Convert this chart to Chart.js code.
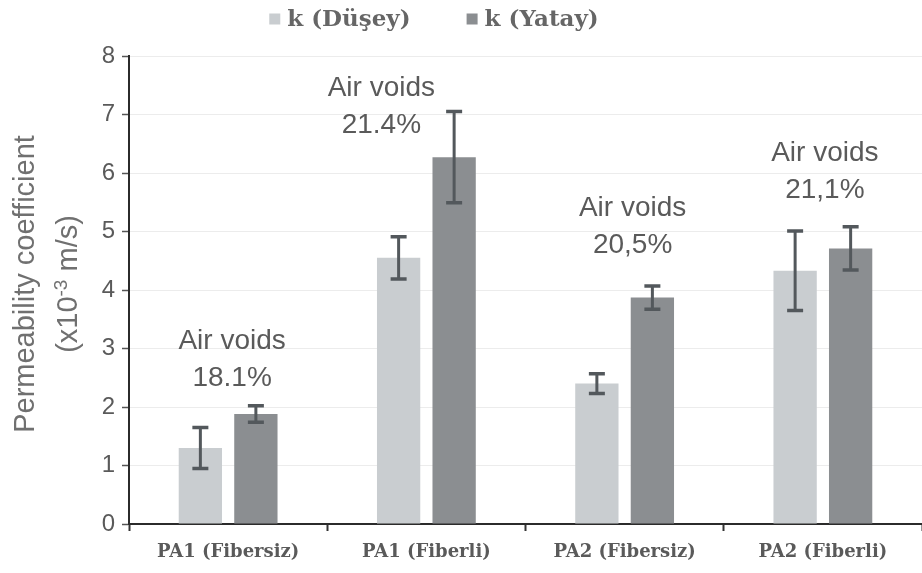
<!DOCTYPE html>
<html>
<head>
<meta charset="utf-8">
<script src="https://cdn.jsdelivr.net/npm/chart.js@4.4.1/dist/chart.umd.min.js"></script>
<style>
  html, body { margin: 0; padding: 0; background: #ffffff; }
  #wrap { width: 922px; height: 573px; }
</style>
</head>
<body>
<div id="wrap"><canvas id="c" width="922" height="573"></canvas></div>
<script>
// Permeability coefficient per mix, vertical (Düşey) and horizontal (Yatay)
const categories = ['PA1 (Fibersiz)', 'PA1 (Fiberli)', 'PA2 (Fibersiz)', 'PA2 (Fiberli)'];
const seriesNames = ['k (Düşey)', 'k (Yatay)'];
const kDusey = [1.30, 4.55, 2.40, 4.33];
const kDuseyErr = [0.35, 0.36, 0.17, 0.68];
const kYatay = [1.88, 6.27, 3.87, 4.71];
const kYatayErr = [0.14, 0.78, 0.20, 0.37];
const airVoids = ['18.1%', '21.4%', '20,5%', '21,1%'];
const yTicks = [0, 1, 2, 3, 4, 5, 6, 7, 8];

const LIGHT = '#c9cdd0';
const DARK = '#8b8e91';
const TEXT = '#5a5a5a';

// Whiskers drawn from each dataset's "errors" array
const errorBars = {
  id: 'errorBars',
  afterDatasetsDraw(chart) {
    const ctx = chart.ctx;
    const y = chart.scales.y;
    chart.data.datasets.forEach((ds, di) => {
      const meta = chart.getDatasetMeta(di);
      meta.data.forEach((bar, i) => {
        const v = ds.data[i], e = ds.errors[i];
        const yt = y.getPixelForValue(v + e);
        const yb = y.getPixelForValue(v - e);
        ctx.save();
        ctx.strokeStyle = '#53585c';
        ctx.lineWidth = 3;
        ctx.beginPath();
        ctx.moveTo(bar.x, yt); ctx.lineTo(bar.x, yb);
        ctx.stroke();
        ctx.lineWidth = 3.5;
        ctx.beginPath();
        ctx.moveTo(bar.x - 8, yt); ctx.lineTo(bar.x + 8, yt);
        ctx.moveTo(bar.x - 8, yb); ctx.lineTo(bar.x + 8, yb);
        ctx.stroke();
        ctx.restore();
      });
    });
  }
};

// "Air voids" notes above each group
const voidLabels = {
  id: 'voidLabels',
  afterDatasetsDraw(chart, args, opts) {
    const ctx = chart.ctx;
    const xs = chart.scales.x, ys = chart.scales.y;
    ctx.save();
    ctx.fillStyle = TEXT;
    ctx.font = '28px "Liberation Sans", Arial, sans-serif';
    ctx.textAlign = 'center';
    ctx.textBaseline = 'middle';
    airVoids.forEach((txt, i) => {
      const a = opts.anchors[i];
      const x = xs.getPixelForValue(i) + a.dx;
      const y = ys.getPixelForValue(a.y);
      ctx.fillText('Air voids', x, y);
      ctx.fillText(txt, x, y + opts.lineGap);
    });
    ctx.restore();
  }
};

// Legend row and rotated y-axis title
const frameText = {
  id: 'frameText',
  afterDraw(chart, args, opts) {
    const ctx = chart.ctx;
    ctx.save();
    // legend
    ctx.font = 'bold 23px "DejaVu Serif", serif';
    ctx.textBaseline = 'middle';
    ctx.textAlign = 'left';
    const box = 11, gap = 7, itemGap = 56;
    const w0 = ctx.measureText(seriesNames[0]).width;
    const w1 = ctx.measureText(seriesNames[1]).width;
    const total = box + gap + w0 + itemGap + box + gap + w1;
    let x = opts.legendCenter - total / 2;
    const ly = 19;
    const cols = [LIGHT, DARK];
    seriesNames.forEach((name, i) => {
      ctx.fillStyle = cols[i];
      ctx.fillRect(x, ly - box / 2, box, box);
      x += box + gap;
      ctx.fillStyle = '#666';
      ctx.fillText(name, x, ly + 1);
      x += (i === 0 ? w0 : w1) + itemGap;
    });

    // y-axis title
    const cy = (chart.chartArea.top + chart.chartArea.bottom) / 2 - 6;
    ctx.fillStyle = '#707070';
    ctx.textAlign = 'left';
    ctx.textBaseline = 'middle';
    ctx.translate(0, cy);
    ctx.rotate(-Math.PI / 2);
    const big = '29px "Liberation Sans", Arial, sans-serif';
    const small = '19px "Liberation Sans", Arial, sans-serif';
    ctx.font = big;
    const l1 = 'Permeability coefficient';
    const w = ctx.measureText(l1).width;
    ctx.fillText(l1, -w / 2, 26);
    const p1 = '(x10', p2 = '-3', p3 = ' m/s)';
    const a = ctx.measureText(p1).width;
    const c = ctx.measureText(p3).width;
    ctx.font = small;
    const b = ctx.measureText(p2).width;
    let sx = -(a + b + c) / 2;
    ctx.font = big;
    ctx.fillText(p1, sx, 69);
    sx += a;
    ctx.font = small;
    ctx.fillText(p2, sx, 62);
    sx += b;
    ctx.font = big;
    ctx.fillText(p3, sx, 69);
    ctx.restore();
  }
};

new Chart(document.getElementById('c'), {
  type: 'bar',
  data: {
    labels: categories,
    datasets: [
      { label: seriesNames[0], data: kDusey, errors: kDuseyErr, backgroundColor: LIGHT,
        borderWidth: 0, categoryPercentage: 0.56, barPercentage: 0.78 },
      { label: seriesNames[1], data: kYatay, errors: kYatayErr, backgroundColor: DARK,
        borderWidth: 0, categoryPercentage: 0.56, barPercentage: 0.78 }
    ]
  },
  options: {
    responsive: false,
    animation: false,
    devicePixelRatio: 1,
    layout: { padding: { top: 56, right: 0, bottom: 0, left: 0 } },
    plugins: {
      legend: { display: false },
      tooltip: { enabled: false },
      voidLabels: {
        lineGap: 37,
        anchors: [
          { dx: 4, y: 3.13 },
          { dx: -45, y: 7.45 },
          { dx: 8, y: 5.40 },
          { dx: 2, y: 6.34 }
        ]
      },
      frameText: { legendCenter: 434 }
    },
    scales: {
      x: {
        afterFit(s) { s.height = 49; },
        grid: { display: true, drawOnChartArea: false, offset: true,
                tickLength: 7, tickColor: '#333', tickWidth: 2 },
        border: { display: true, color: '#2b2b2b', width: 2 },
        ticks: { color: TEXT, padding: 11,
                 font: { family: '"DejaVu Serif", serif', size: 18, weight: 'bold' } }
      },
      y: {
        min: 0, max: 8,
        afterFit(s) { s.width = 129; },
        afterBuildTicks(s) { s.ticks = yTicks.map(v => ({ value: v })); },
        grid: { color: '#ececec', lineWidth: 1, tickLength: 7, tickColor: '#555', tickWidth: 1.5 },
        border: { display: true, color: '#2b2b2b', width: 2 },
        ticks: { color: TEXT, padding: 7,
                 font: { family: '"Liberation Sans", Arial, sans-serif', size: 24 } }
      }
    }
  },
  plugins: [errorBars, voidLabels, frameText]
});
</script>
</body>
</html>
